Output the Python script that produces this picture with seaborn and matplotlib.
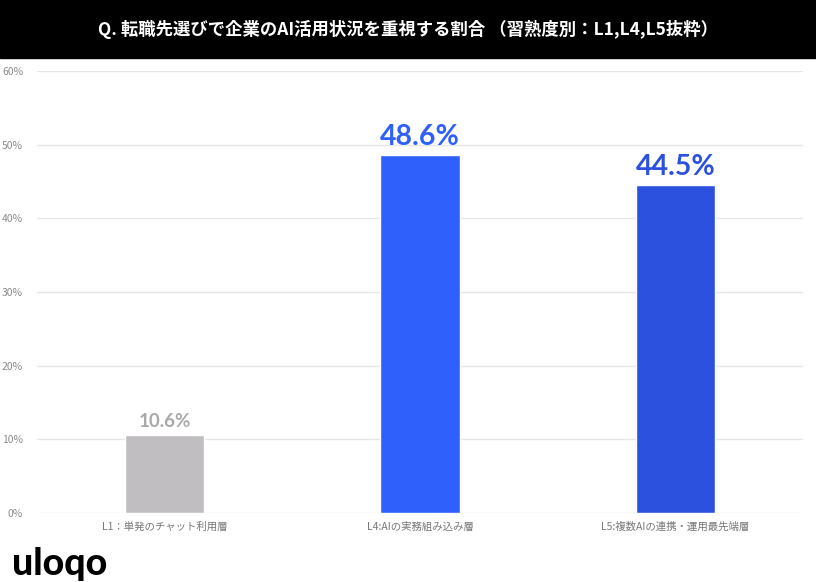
import matplotlib
matplotlib.use('Agg')
import matplotlib.pyplot as plt
import seaborn as sns
import pandas as pd

categories = ['L1：単発のチャット利用層', 'L4:AIの実務組み込み層', 'L5:複数AIの連携・運用最先端層']
values = [10.6, 48.6, 44.5]
bar_colors = ['#c0bec1', '#2f60fb', '#2b51de']
label_colors = ['#a9a9a9', '#2f60fb', '#2b51de']
yticks = [0, 10, 20, 30, 40, 50, 60]
title = 'Q. 転職先選びで企業のAI活用状況を重視する割合 （習熟度別：L1,L4,L5抜粋）'

sns.set_theme(style='white')
plt.rcParams['font.family'] = ['Noto Sans CJK JP', 'DejaVu Sans']

df = pd.DataFrame({'cat': categories, 'val': values})

fig = plt.figure(figsize=(8.16, 5.82), dpi=100)
fig.patch.set_facecolor('white')
# black title band
fig.patches.append(plt.Rectangle((0, 1 - 58 / 582), 1, 58 / 582, transform=fig.transFigure,
                                 color='black', zorder=0))
fig.text(0.5, 1 - 29 / 582, title, color='white', fontsize=12.5, fontweight='bold',
         ha='center', va='center')

ax = fig.add_axes([37 / 816, 69 / 582, 766 / 816, 442 / 582])
sns.barplot(data=df, x='cat', y='val', hue='cat', palette=bar_colors, width=0.31,
            saturation=1, legend=False, ax=ax, zorder=3)
ax.set_ylim(0, 60)
ax.set_xlim(-0.5, 2.5)
ax.set_yticks(yticks)
ax.set_yticklabels([f'{t}%' for t in yticks], color='#8a8a8a', fontsize=7.5)
ax.tick_params(axis='y', length=0, pad=10)
ax.tick_params(axis='x', length=0, pad=6, labelsize=7.5, labelcolor='#777777')
ax.grid(axis='y', color='#e6e6e6', linewidth=1, zorder=0)
for s in ax.spines.values():
    s.set_visible(False)
ax.set_xlabel('')
ax.set_ylabel('')

sizes = [13.5, 20.5, 20.5]
for i, (v, c, fs) in enumerate(zip(values, label_colors, sizes)):
    ax.text(i, v + 0.7, f'{v}%', ha='center', va='bottom', color=c, fontsize=fs,
            fontweight='bold', family=['Lato', 'DejaVu Sans'])

fig.text(12 / 816, 1 - 564 / 582, 'uloqo', fontsize=27, fontweight='black', color='black',
         ha='left', va='center', family=['Lato', 'DejaVu Sans'])

fig.savefig('out.png', dpi=100)
